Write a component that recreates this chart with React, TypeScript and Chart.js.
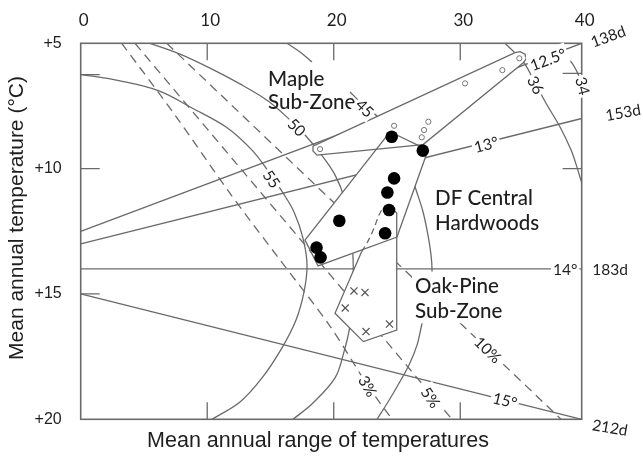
import React, { useEffect, useRef } from 'react';
import { Chart, registerables } from 'chart.js';

Chart.register(...registerables);

type Pt = [number, number];

// ---------- axes ----------
const X_MIN = 0;
const X_MAX = 39.6;
const Y_MIN = 5;
const Y_MAX = 20;
const xTickValues = [0, 10, 20, 30, 40];
const xTickLabels = ['0', '10', '20', '30', '40'];
const yTickValues = [5, 10, 15, 20];
const yTickLabels = ['+5', '+10', '+15', '+20'];
const topInnerTicks = [10, 20, 30];
const bottomInnerTicks = [10, 20, 30];
const leftInnerTicks = [6.25, 10, 15];
const rightInnerTicks = [6.2, 10];

const xTitle = 'Mean annual range of temperatures';
const yTitle = 'Mean annual temperature (°C)';

// ---------- isotherms (straight) ----------
const iso125: Pt[] = [[0, 12.5], [39.6, 5.0]];
const iso13: Pt[] = [[0, 13], [39.6, 8.0]];
const iso14: Pt[] = [[0, 14], [39.6, 14]];
const iso15: Pt[] = [[0, 15], [39.6, 20]];

// ---------- curved isolines ----------
const arc55: Pt[] = [
  [0.0, 6.24], [3.11, 6.5], [6.19, 6.9], [8.8, 7.58], [11.49, 8.34], [13.54, 9.26],
  [14.81, 10.09], [15.99, 10.97], [16.86, 11.73], [17.57, 12.77], [17.89, 13.84],
  [17.65, 14.92], [17.02, 16.04], [15.91, 17.15], [14.33, 18.35], [12.59, 19.31], [10.38, 20.0],
];
const arc50: Pt[] = [
  [5.48, 5.0], [7.85, 5.43], [10.06, 5.95], [12.59, 6.62], [14.81, 7.3], [16.55, 8.06],
  [17.73, 8.66], [18.92, 9.38], [20.1, 10.25], [20.89, 11.25], [21.37, 12.45], [21.53, 13.64],
  [21.53, 14.84], [21.29, 16.24], [20.81, 17.31], [20.1, 18.35], [18.36, 19.35], [16.78, 20.0],
];
const arc45Top: Pt[] = [[16.31, 5.0], [17.34, 5.35], [18.28, 5.75]];
const arc45: Pt[] = [
  [21.29, 6.94], [22.08, 7.34], [22.71, 7.62], [23.5, 7.94], [24.85, 8.86], [25.87, 9.85],
  [26.51, 10.85], [27.06, 11.73], [27.45, 12.65], [27.69, 13.44], [27.77, 14.04], [27.69, 15.04],
  [27.45, 15.64], [27.06, 16.04], [26.59, 17.03], [25.95, 17.83], [25.08, 18.63], [24.29, 19.31],
  [23.42, 20.0],
];
const arc36: Pt[] = [
  [33.54, 5.0], [34.36, 5.4], [35.12, 5.83], [35.99, 6.66], [36.86, 7.46], [37.89, 8.34],
  [38.76, 9.26], [39.23, 9.95], [39.6, 10.57],
];
const arc34: Pt[] = [[38.29, 5.51], [38.84, 5.79], [39.23, 6.14], [39.55, 6.54]];

// ---------- percentage lines (dashed) ----------
const pct3: Pt[] = [
  [3.24, 5.0], [7.45, 7.86], [11.72, 10.93], [15.75, 13.64], [19.7, 16.28], [22.71, 18.67], [24.61, 20.0],
];
const pct5: Pt[] = [[4.29, 5.0], [29.35, 20.0]];
const pct10: Pt[] = [[6.8, 5.0], [37.97, 20.0]];

// ---------- zones ----------
const mapleZone: Pt[] = [
  [18.36, 9.1], [34.33, 5.37], [34.73, 5.33], [35.12, 5.43], [35.2, 5.63], [34.96, 5.79],
  [27.06, 9.04], [18.68, 9.46], [18.36, 9.3], [18.36, 9.1],
];
const dfZone: Pt[] = [
  [24.45, 8.53], [27.45, 9.26], [25.0, 12.73], [18.76, 13.88], [17.73, 12.85], [24.45, 8.53],
];
const oakZoneSolid: Pt[] = [
  [24.37, 11.45], [24.98, 11.77], [24.98, 16.44], [22.34, 16.9], [20.1, 15.77], [22.21, 13.31],
];
const oakZoneDashed: Pt[] = [
  [22.21, 13.31], [22.71, 12.89], [23.19, 12.37], [23.58, 11.85], [23.98, 11.53], [24.37, 11.45],
];

// ---------- sites ----------
const dfSites: Pt[] = [
  [24.58, 8.73], [27.04, 9.28], [24.77, 10.39], [24.24, 10.95], [24.37, 11.65], [24.06, 12.58],
  [20.44, 12.08], [18.64, 13.15], [18.96, 13.54],
];
const mapleSites: Pt[] = [
  [18.92, 9.22], [24.77, 8.29], [27.48, 8.13], [27.14, 8.46], [26.96, 8.75], [30.38, 6.6],
  [33.33, 6.07], [34.67, 5.6],
];
const oakSites: Pt[] = [
  [21.6, 14.88], [22.47, 14.94], [20.91, 15.56], [22.55, 16.5], [24.41, 16.2],
];

// ---------- annotations ----------
type Note = { text: string; x: number; y: number; angle: number; kind: 'zone' | 'num' | 'side'; bg: boolean };
const zoneNotes: Note[] = [
  { text: 'Maple', x: 14.81, y: 6.38, angle: 0, kind: 'zone', bg: false },
  { text: 'Sub-Zone', x: 14.81, y: 7.3, angle: 0, kind: 'zone', bg: false },
  { text: 'DF Central', x: 28.01, y: 11.13, angle: 0, kind: 'zone', bg: false },
  { text: 'Hardwoods', x: 28.01, y: 12.13, angle: 0, kind: 'zone', bg: false },
  { text: 'Oak-Pine', x: 26.43, y: 14.64, angle: 0, kind: 'zone', bg: true },
  { text: 'Sub-Zone', x: 26.43, y: 15.64, angle: 0, kind: 'zone', bg: true },
];
const lineNotes: Note[] = [
  { text: '45', x: 22.47, y: 7.58, angle: 45, kind: 'num', bg: true },
  { text: '50', x: 17.1, y: 8.34, angle: 45, kind: 'num', bg: true },
  { text: '55', x: 15.12, y: 10.41, angle: 55, kind: 'num', bg: true },
  { text: '36', x: 35.99, y: 6.66, angle: 62, kind: 'num', bg: true },
  { text: '34', x: 39.71, y: 6.7, angle: 75, kind: 'num', bg: true },
  { text: '12.5°', x: 36.94, y: 5.63, angle: -20.6, kind: 'num', bg: true },
  { text: '13°', x: 32.04, y: 9.02, angle: -14.4, kind: 'num', bg: true },
  { text: '14°', x: 38.29, y: 14.0, angle: 0, kind: 'num', bg: true },
  { text: '15°', x: 33.54, y: 19.23, angle: 13.9, kind: 'num', bg: true },
  { text: '3%', x: 22.71, y: 18.67, angle: 60, kind: 'num', bg: true },
  { text: '5%', x: 27.69, y: 19.12, angle: 55, kind: 'num', bg: true },
  { text: '10%', x: 32.2, y: 17.22, angle: 44, kind: 'num', bg: true },
  { text: '138d', x: 41.68, y: 4.71, angle: -20, kind: 'side', bg: false },
  { text: '153d', x: 42.87, y: 7.74, angle: -10, kind: 'side', bg: false },
  { text: '183d', x: 41.84, y: 14.0, angle: 0, kind: 'side', bg: false },
  { text: '212d', x: 41.84, y: 20.31, angle: 10, kind: 'side', bg: false },
];

// ---------- styles ----------
const LINE = '#6a6a6a';
const TEXT = '#1e1e1e';
const ZONE_FONT = 'Lato, "DejaVu Sans", sans-serif';
const ARIAL = '"Liberation Sans", Arial, sans-serif';

const toXY = (pts: Pt[]) => pts.map(([x, y]) => ({ x, y }));

function lineSet(pts: Pt[], extra: any = {}) {
  return {
    data: toXY(pts),
    borderColor: LINE,
    borderWidth: 1.3,
    pointRadius: 0,
    fill: false,
    tension: 0,
    order: 4,
    ...extra,
  };
}

const decor = {
  id: 'decor',
  beforeDatasetsDraw(chart: any) {
    const { ctx, chartArea: a, scales } = chart;
    const xs = scales.x;
    const ys = scales.y;
    ctx.save();
    ctx.strokeStyle = LINE;
    ctx.lineWidth = 1.6;
    ctx.strokeRect(a.left, a.top, a.right - a.left, a.bottom - a.top);
    ctx.lineWidth = 1.3;
    ctx.beginPath();
    topInnerTicks.forEach((v) => {
      const p = xs.getPixelForValue(v);
      ctx.moveTo(p, a.top);
      ctx.lineTo(p, a.top + 17);
    });
    bottomInnerTicks.forEach((v) => {
      const p = xs.getPixelForValue(v);
      ctx.moveTo(p, a.bottom);
      ctx.lineTo(p, a.bottom - 17);
    });
    leftInnerTicks.forEach((v) => {
      const p = ys.getPixelForValue(v);
      ctx.moveTo(a.left, p);
      ctx.lineTo(a.left + 19, p);
    });
    rightInnerTicks.forEach((v) => {
      const p = ys.getPixelForValue(v);
      ctx.moveTo(a.right, p);
      ctx.lineTo(a.right - 19, p);
    });
    ctx.stroke();
    ctx.restore();
  },
  afterDatasetsDraw(chart: any) {
    const { ctx, scales } = chart;
    const xs = scales.x;
    const ys = scales.y;
    const draw = (n: Note) => {
      const px = xs.getPixelForValue(n.x);
      const py = ys.getPixelForValue(n.y);
      const size = n.kind === 'zone' ? 20.5 : 15.5;
      const align = n.kind === 'zone' ? 'left' : 'center';
      ctx.save();
      ctx.translate(px, py);
      ctx.rotate((n.angle * Math.PI) / 180);
      ctx.font = `${n.kind === 'zone' ? '500 ' : ''}${size}px ${ZONE_FONT}`;
      ctx.textAlign = align;
      ctx.textBaseline = 'middle';
      const w = ctx.measureText(n.text).width;
      if (n.bg) {
        const pad = n.kind === 'zone' ? 3 : 2;
        const x0 = align === 'left' ? -pad : -w / 2 - pad;
        ctx.fillStyle = '#ffffff';
        ctx.fillRect(x0, -size * 0.65, w + 2 * pad, size * 1.3);
      }
      ctx.fillStyle = TEXT;
      ctx.fillText(n.text, 0, 1);
      ctx.restore();
    };
    zoneNotes.forEach(draw);
    lineNotes.forEach(draw);

    // axis titles
    ctx.save();
    ctx.fillStyle = TEXT;
    ctx.font = `21.5px ${ARIAL}`;
    ctx.textAlign = 'center';
    ctx.textBaseline = 'middle';
    ctx.fillText(xTitle, 318, 441);
    ctx.font = `21px ${ARIAL}`;
    ctx.translate(17, 218);
    ctx.rotate(-Math.PI / 2);
    ctx.fillText(yTitle, 0, 0);
    ctx.restore();
  },
};

export default function App() {
  const ref = useRef<HTMLCanvasElement | null>(null);

  useEffect(() => {
    if (!ref.current) return;
    const datasets: any[] = [
      // base lines
      lineSet(iso125),
      lineSet(iso13),
      lineSet(iso14),
      lineSet(iso15),
      lineSet(arc55, { tension: 0.35 }),
      lineSet(arc50, { tension: 0.35 }),
      lineSet(arc45Top, { tension: 0.35 }),
      lineSet(arc45, { tension: 0.35 }),
      lineSet(arc36, { tension: 0.35 }),
      lineSet(arc34, { tension: 0.35 }),
      lineSet(pct3, { tension: 0.3, borderDash: [9, 6] }),
      lineSet(pct5, { borderDash: [9, 6] }),
      lineSet(pct10, { borderDash: [9, 6] }),
      // zone fills (white)
      lineSet(mapleZone, { order: 3, borderColor: 'rgba(0,0,0,0)', backgroundColor: '#ffffff', fill: 'shape' }),
      lineSet(dfZone, { order: 3, borderColor: 'rgba(0,0,0,0)', backgroundColor: '#ffffff', fill: 'shape' }),
      lineSet([...oakZoneSolid, ...oakZoneDashed.slice(1)], {
        order: 3, borderColor: 'rgba(0,0,0,0)', backgroundColor: '#ffffff', fill: 'shape',
      }),
      // zone outlines
      lineSet(mapleZone, { order: 2 }),
      lineSet(dfZone, { order: 2 }),
      lineSet(oakZoneSolid, { order: 2 }),
      lineSet(oakZoneDashed, { order: 2, borderDash: [6, 4], tension: 0.3 }),
      // sites
      {
        data: toXY(dfSites), showLine: false, order: 1,
        pointRadius: 6.3, pointStyle: 'circle', pointBackgroundColor: '#000', pointBorderColor: '#000', pointBorderWidth: 0,
      },
      {
        data: toXY(mapleSites), showLine: false, order: 1,
        pointRadius: 2.6, pointStyle: 'circle', pointBackgroundColor: '#fff', pointBorderColor: '#777', pointBorderWidth: 1,
      },
      {
        data: toXY(oakSites), showLine: false, order: 1,
        pointRadius: 5, pointStyle: 'crossRot', pointBorderColor: '#555', pointBorderWidth: 1.2,
      },
    ];

    const chart = new Chart(ref.current, {
      type: 'line',
      data: { datasets },
      options: {
        animation: false,
        responsive: false,
        devicePixelRatio: 1,
        events: [],
        layout: { padding: { left: 0, top: 0, right: 61.3, bottom: 39.7 }, autoPadding: false },
        plugins: { legend: { display: false }, tooltip: { enabled: false }, title: { display: false } },
        scales: {
          x: {
            type: 'linear',
            position: 'top',
            min: X_MIN,
            max: X_MAX,
            grid: { display: false, drawTicks: false },
            border: { display: false },
            afterBuildTicks: (s: any) => {
              s.ticks = xTickValues.map((v) => ({ value: Math.min(v, X_MAX) }));
            },
            afterFit: (s: any) => {
              s.height = 43.3;
              s.paddingLeft = 0;
              s.paddingRight = 0;
            },
            ticks: {
              autoSkip: false,
              maxRotation: 0,
              padding: 13,
              labelOffset: 3,
              color: TEXT,
              font: { family: ZONE_FONT, size: 17 },
              callback: (_v: any, i: number) => xTickLabels[i],
            },
          },
          y: {
            type: 'linear',
            position: 'left',
            reverse: true,
            min: Y_MIN,
            max: Y_MAX,
            grid: { display: false, drawTicks: false },
            border: { display: false },
            afterBuildTicks: (s: any) => {
              s.ticks = yTickValues.map((v) => ({ value: v }));
            },
            afterFit: (s: any) => {
              s.width = 80.7;
              s.paddingTop = 0;
              s.paddingBottom = 0;
            },
            ticks: {
              autoSkip: false,
              padding: 19,
              color: TEXT,
              font: { family: ARIAL, size: 16 },
              callback: (_v: any, i: number) => yTickLabels[i],
            },
          },
        },
      } as any,
      plugins: [decor],
    });
    return () => chart.destroy();
  }, []);

  return (
    <div style={{ position: 'fixed', left: 0, top: 0, width: 643, height: 459, background: '#fff' }}>
      <canvas ref={ref} width={643} height={459} style={{ display: 'block', width: 643, height: 459 }} />
    </div>
  );
}
